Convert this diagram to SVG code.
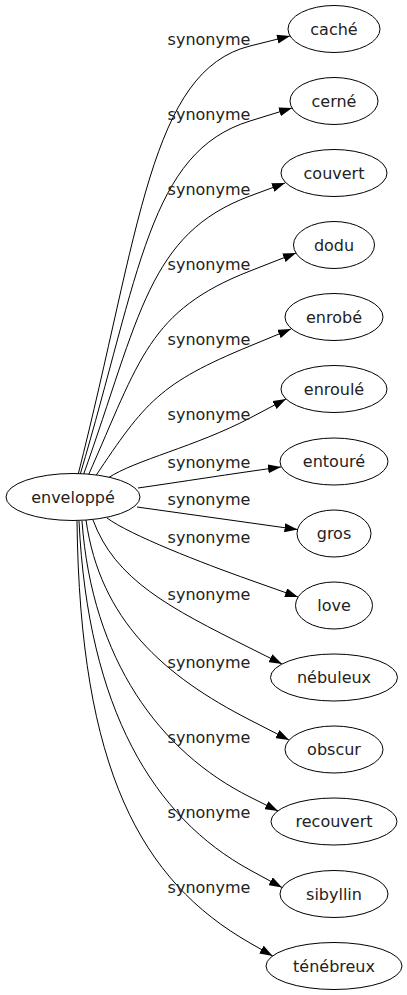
<svg xmlns="http://www.w3.org/2000/svg" width="407" height="995" viewBox="0 0 407 995">
<defs>
<marker id="arr" viewBox="0 0 13 9" refX="13" refY="4.5" markerWidth="13" markerHeight="9" markerUnits="userSpaceOnUse" orient="auto">
<path d="M0,0 L13,4.5 L0,9 z" fill="#000"/>
</marker>
<style>
.n ellipse{fill:#fff;stroke:#000;stroke-width:1}
.n text{font-family:"DejaVu Sans",sans-serif;font-size:16px;fill:#222;text-anchor:middle}
#edges path{fill:none;stroke:#000;stroke-width:1;marker-end:url(#arr)}
#edges text{font-family:"DejaVu Sans",sans-serif;font-size:16px;fill:#222;text-anchor:middle}
</style>
</defs>
<rect width="407" height="995" fill="#fff"/>
<g id="edges">
<path d="M78,475 C140,230 150,71 250,46 L290,36"/>
<path d="M80,475 C140,273 149,152 250,121 L292,108"/>
<path d="M83,476 C140,316 148.5,233.7 250,196 L285,183"/>
<path d="M88,476 C140,359 148.8,310.6 250,271 L296,253"/>
<path d="M95,477 C145,402 160,383 250,346 L291,329"/>
<path d="M108,478 C135,460 196,446.5 250,418 L286,399"/>
<path d="M138,488 C180,482 230,474 281,467"/>
<path d="M137,507 L297.5,529.5"/>
<path d="M107,518 C130,535 202,563 250,580 L298,597"/>
<path d="M93,520 C115,580 170,608 250,648 L282,664"/>
<path d="M86,520 C100,620 164,676 250,720 L289,740"/>
<path d="M82,521 C92,660 160,752 250,797 L278,811"/>
<path d="M79,521 C88,710 154,817.5 250,870 L282,887.5"/>
<path d="M77,521 C80,770 141,880.6 250,943 L272.7,956"/>
<text x="209" y="45">synonyme</text>
<text x="209" y="120">synonyme</text>
<text x="209" y="195">synonyme</text>
<text x="209" y="270">synonyme</text>
<text x="209" y="345">synonyme</text>
<text x="209" y="420">synonyme</text>
<text x="209" y="468">synonyme</text>
<text x="209" y="505">synonyme</text>
<text x="209" y="543">synonyme</text>
<text x="209" y="600">synonyme</text>
<text x="209" y="668">synonyme</text>
<text x="209" y="743">synonyme</text>
<text x="209" y="818">synonyme</text>
<text x="209" y="893">synonyme</text>
</g>
<g id="enveloppe" class="n"><ellipse cx="73" cy="497" rx="67" ry="23.5"/><text x="73" y="502.5">enveloppé</text></g>
<g id="cache" class="n"><ellipse cx="334" cy="29" rx="46" ry="23.5"/><text x="334" y="34.5">caché</text></g>
<g id="cerne" class="n"><ellipse cx="334" cy="101" rx="44" ry="23.5"/><text x="334" y="106.5">cerné</text></g>
<g id="couvert" class="n"><ellipse cx="334" cy="173" rx="53" ry="23.5"/><text x="334" y="178.5">couvert</text></g>
<g id="dodu" class="n"><ellipse cx="334" cy="245" rx="40.5" ry="23.5"/><text x="334" y="250.5">dodu</text></g>
<g id="enrobe" class="n"><ellipse cx="334" cy="317" rx="49" ry="23.5"/><text x="334" y="322.5">enrobé</text></g>
<g id="enroule" class="n"><ellipse cx="334" cy="389" rx="53" ry="23.5"/><text x="334" y="394.5">enroulé</text></g>
<g id="entoure" class="n"><ellipse cx="334" cy="461.5" rx="54" ry="23.5"/><text x="334" y="467">entouré</text></g>
<g id="gros" class="n"><ellipse cx="334" cy="533.5" rx="37" ry="23.5"/><text x="334" y="539">gros</text></g>
<g id="love" class="n"><ellipse cx="334" cy="605.5" rx="38.5" ry="23.5"/><text x="334" y="611">love</text></g>
<g id="nebuleux" class="n"><ellipse cx="334" cy="677.5" rx="63.5" ry="23.5"/><text x="334" y="683">nébuleux</text></g>
<g id="obscur" class="n"><ellipse cx="334" cy="749.5" rx="49" ry="23.5"/><text x="334" y="755">obscur</text></g>
<g id="recouvert" class="n"><ellipse cx="334" cy="821.5" rx="63" ry="23.5"/><text x="334" y="827">recouvert</text></g>
<g id="sibyllin" class="n"><ellipse cx="334" cy="894" rx="54" ry="23.5"/><text x="334" y="899.5">sibyllin</text></g>
<g id="tenebreux" class="n"><ellipse cx="334" cy="966" rx="68" ry="23.5"/><text x="334" y="971.5">ténébreux</text></g>
</svg>
